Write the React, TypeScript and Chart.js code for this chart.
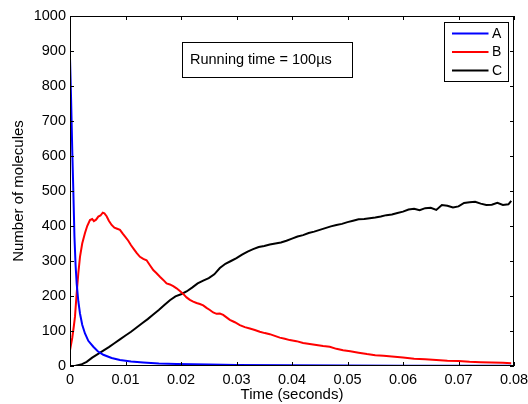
import React, { useEffect, useRef } from "react";
import { Chart, registerables } from "chart.js";

Chart.register(...registerables);

const seriesNames = ["A", "B", "C"];
const seriesColors = ["#0000ff", "#ff0000", "#000000"];

const tA = [0, 0.0002, 0.0004, 0.0006, 0.0008, 0.001, 0.0012, 0.0015, 0.0018, 0.0022, 0.0027, 0.0033, 0.0042, 0.005, 0.006, 0.0075, 0.009, 0.011, 0.0132, 0.016, 0.0192, 0.025, 0.03, 0.04, 0.05, 0.06, 0.07, 0.0795];
const vA = [880, 760, 620, 500, 370, 290, 236, 185, 150, 118, 93, 72, 55, 42, 32, 23, 17, 13, 10, 7, 5.5, 4, 3, 2, 1.5, 1, 1, 0.5];

const tB = [0, 0.0004, 0.0007, 0.0009, 0.0012, 0.0015, 0.0018, 0.0022, 0.0027, 0.0031, 0.0036, 0.004, 0.0043, 0.0047, 0.0051, 0.0055, 0.0059, 0.0062, 0.0066, 0.007, 0.0075, 0.008, 0.0085, 0.009, 0.0095, 0.01, 0.0105, 0.011, 0.0115, 0.012, 0.0126, 0.0132, 0.0138, 0.0144, 0.015, 0.0156, 0.0162, 0.0168, 0.0174, 0.018, 0.0186, 0.0192, 0.0198, 0.0204, 0.021, 0.0216, 0.0222, 0.0228, 0.0234, 0.024, 0.0246, 0.0252, 0.0258, 0.0264, 0.027, 0.0276, 0.0282, 0.0288, 0.0297, 0.0306, 0.0315, 0.0324, 0.0333, 0.0342, 0.0351, 0.036, 0.0369, 0.0378, 0.0387, 0.0396, 0.0408, 0.042, 0.0432, 0.0444, 0.0456, 0.0468, 0.048, 0.0492, 0.0505, 0.052, 0.0535, 0.055, 0.0565, 0.058, 0.06, 0.062, 0.064, 0.066, 0.068, 0.07, 0.072, 0.074, 0.076, 0.078, 0.0795];
const vB = [45, 80, 115, 141, 208, 265, 312, 350, 380, 400, 417, 420, 414, 418, 427, 430, 438, 436, 428, 415, 403, 395, 392, 389, 378, 368, 358, 345, 334, 323, 312, 306, 302, 288, 274, 265, 255, 246, 236, 233, 228, 222, 214, 206, 196, 189, 184, 180, 177, 173, 166, 160, 153, 149, 150, 146, 139, 132, 125, 117, 111, 107, 103, 98, 94, 91, 86, 81, 78, 74, 71, 66, 63, 60, 57, 55, 49, 45, 42, 38, 34, 31, 29, 27, 24, 21, 19, 17, 15, 14, 12, 11, 10, 9, 8];

const tC = [0, 0.001, 0.002, 0.003, 0.004, 0.005, 0.006, 0.007, 0.008, 0.009, 0.01, 0.011, 0.012, 0.013, 0.014, 0.015, 0.016, 0.017, 0.018, 0.019, 0.02, 0.021, 0.022, 0.023, 0.024, 0.025, 0.026, 0.027, 0.028, 0.029, 0.03, 0.031, 0.032, 0.033, 0.034, 0.035, 0.036, 0.037, 0.038, 0.039, 0.04, 0.041, 0.042, 0.043, 0.044, 0.045, 0.046, 0.047, 0.048, 0.049, 0.05, 0.051, 0.052, 0.053, 0.054, 0.055, 0.056, 0.057, 0.058, 0.059, 0.06, 0.061, 0.062, 0.063, 0.064, 0.065, 0.066, 0.067, 0.068, 0.069, 0.07, 0.071, 0.072, 0.073, 0.074, 0.075, 0.076, 0.077, 0.078, 0.079, 0.0795];
const vC = [0, 1, 4, 12, 24, 34, 44, 54, 65, 76, 87, 98, 110, 122, 134, 147, 160, 174, 188, 199, 205, 213, 224, 236, 244, 251, 262, 280, 292, 300, 308, 318, 327, 334, 340, 343, 347, 350, 353, 358, 364, 370, 374, 380, 384, 389, 394, 399, 403, 406, 411, 415, 419, 420, 422, 424, 427, 431, 433, 437, 441, 447, 449, 445, 451, 452, 446, 460, 458, 453, 456, 466, 468, 469, 464, 460, 461, 466, 460, 462, 472];

const xTickStep = 0.01;
const xMax = 0.08;
const yMax = 1000;
const yTickStep = 100;
const annotationText = "Running time = 100\u00b5s";
const xTitle = "Time (seconds)";
const yTitle = "Number of molecules";

const FONT = "'Liberation Sans', Arial, Helvetica, sans-serif";

const boxPlugin = {
  id: "matlabBox",
  afterDraw(chart: any) {
    const { ctx, chartArea } = chart;
    const { left, right, top, bottom } = chartArea;
    const xs = chart.scales.x;
    const ys = chart.scales.y;
    ctx.save();
    ctx.strokeStyle = "#000";
    ctx.lineWidth = 1;
    ctx.strokeRect(Math.round(left) + 0.5, Math.round(top) + 0.5, Math.round(right - left) - 1, Math.round(bottom - top) - 1);
    const tl = 4;
    ctx.beginPath();
    xs.ticks.forEach((t: any) => {
      const px = Math.round(xs.getPixelForValue(t.value)) + 0.5;
      ctx.moveTo(px, bottom);
      ctx.lineTo(px, bottom - tl);
      ctx.moveTo(px, top);
      ctx.lineTo(px, top + tl);
    });
    ys.ticks.forEach((t: any) => {
      const py = Math.round(ys.getPixelForValue(t.value)) + 0.5;
      ctx.moveTo(left, py);
      ctx.lineTo(left + tl, py);
      ctx.moveTo(right, py);
      ctx.lineTo(right - tl, py);
    });
    ctx.stroke();

    // annotation box
    const ax = Math.round(left) + 112.5;
    const ay = Math.round(top) + 26.5;
    ctx.fillStyle = "#fff";
    ctx.fillRect(ax, ay, 170, 35);
    ctx.strokeRect(ax, ay, 170, 35);
    ctx.fillStyle = "#000";
    ctx.font = `14.5px ${FONT}`;
    ctx.textBaseline = "middle";
    ctx.textAlign = "left";
    ctx.fillText(annotationText, ax + 7.5, ay + 17.5);

    // legend
    const lw = 64;
    const lh = 59;
    const lx = Math.round(right) - 6 - lw + 0.5;
    const ly = Math.round(top) + 6.5;
    ctx.fillStyle = "#fff";
    ctx.fillRect(lx, ly, lw, lh);
    ctx.strokeRect(lx, ly, lw, lh);
    chart.data.datasets.forEach((ds: any, i: number) => {
      const yy = ly + 11 + i * 18.5;
      ctx.strokeStyle = ds.borderColor;
      ctx.lineWidth = 2;
      ctx.beginPath();
      ctx.moveTo(lx + 7.5, yy);
      ctx.lineTo(lx + 44, yy);
      ctx.stroke();
      ctx.fillStyle = "#000";
      ctx.font = `14px ${FONT}`;
      ctx.fillText(ds.label, lx + 47.5, yy + 0.5);
    });
    ctx.restore();
  },
};

export default function App() {
  const ref = useRef<HTMLCanvasElement | null>(null);
  useEffect(() => {
    document.body.style.margin = "0";
    const canvas = ref.current;
    if (!canvas) return;
    const toPts = (t: number[], v: number[]) => t.map((x, i) => ({ x, y: v[i] }));
    const chart = new Chart(canvas, {
      type: "line",
      data: {
        datasets: [
          { label: seriesNames[0], data: toPts(tA, vA), borderColor: seriesColors[0], backgroundColor: seriesColors[0] },
          { label: seriesNames[1], data: toPts(tB, vB), borderColor: seriesColors[1], backgroundColor: seriesColors[1] },
          { label: seriesNames[2], data: toPts(tC, vC), borderColor: seriesColors[2], backgroundColor: seriesColors[2] },
        ],
      },
      options: {
        animation: false,
        responsive: false,
        devicePixelRatio: 1,
        elements: {
          point: { radius: 0 },
          line: { borderWidth: 2, tension: 0 },
        },
        layout: { padding: { top: 16, right: 14, left: 0, bottom: 0 } },
        plugins: {
          legend: { display: false },
          tooltip: { enabled: false },
        },
        scales: {
          x: {
            type: "linear",
            min: 0,
            max: xMax,
            grid: { display: false, drawTicks: false },
            border: { display: false },
            ticks: {
              stepSize: xTickStep,
              padding: 5,
              color: "#000",
              font: { family: FONT, size: 14.5 },
              maxRotation: 0,
              callback: (v: any) => String(Number(Number(v).toFixed(2))),
            },
            title: {
              display: true,
              text: xTitle,
              color: "#000",
              font: { family: FONT, size: 15 },
              padding: { top: 0, bottom: 0 },
            },
            afterFit: (s: any) => {
              s.height = 38;
              s.paddingLeft = 0;
              s.paddingRight = 0;
            },
          },
          y: {
            type: "linear",
            min: 0,
            max: yMax,
            grid: { display: false, drawTicks: false },
            border: { display: false },
            ticks: {
              stepSize: yTickStep,
              padding: 4,
              color: "#000",
              font: { family: FONT, size: 14.5 },
              callback: (v: any) => String(Math.round(Number(v))),
            },
            title: {
              display: true,
              text: yTitle,
              color: "#000",
              font: { family: FONT, size: 15 },
              padding: { top: 10, bottom: 0 },
            },
            afterFit: (s: any) => {
              s.width = 70;
              s.paddingTop = 0;
              s.paddingBottom = 0;
            },
          },
        },
      },
      plugins: [boxPlugin],
    });
    return () => chart.destroy();
  }, []);
  return <canvas ref={ref} width={528} height={404} style={{ display: "block", width: 528, height: 404 }} />;
}
